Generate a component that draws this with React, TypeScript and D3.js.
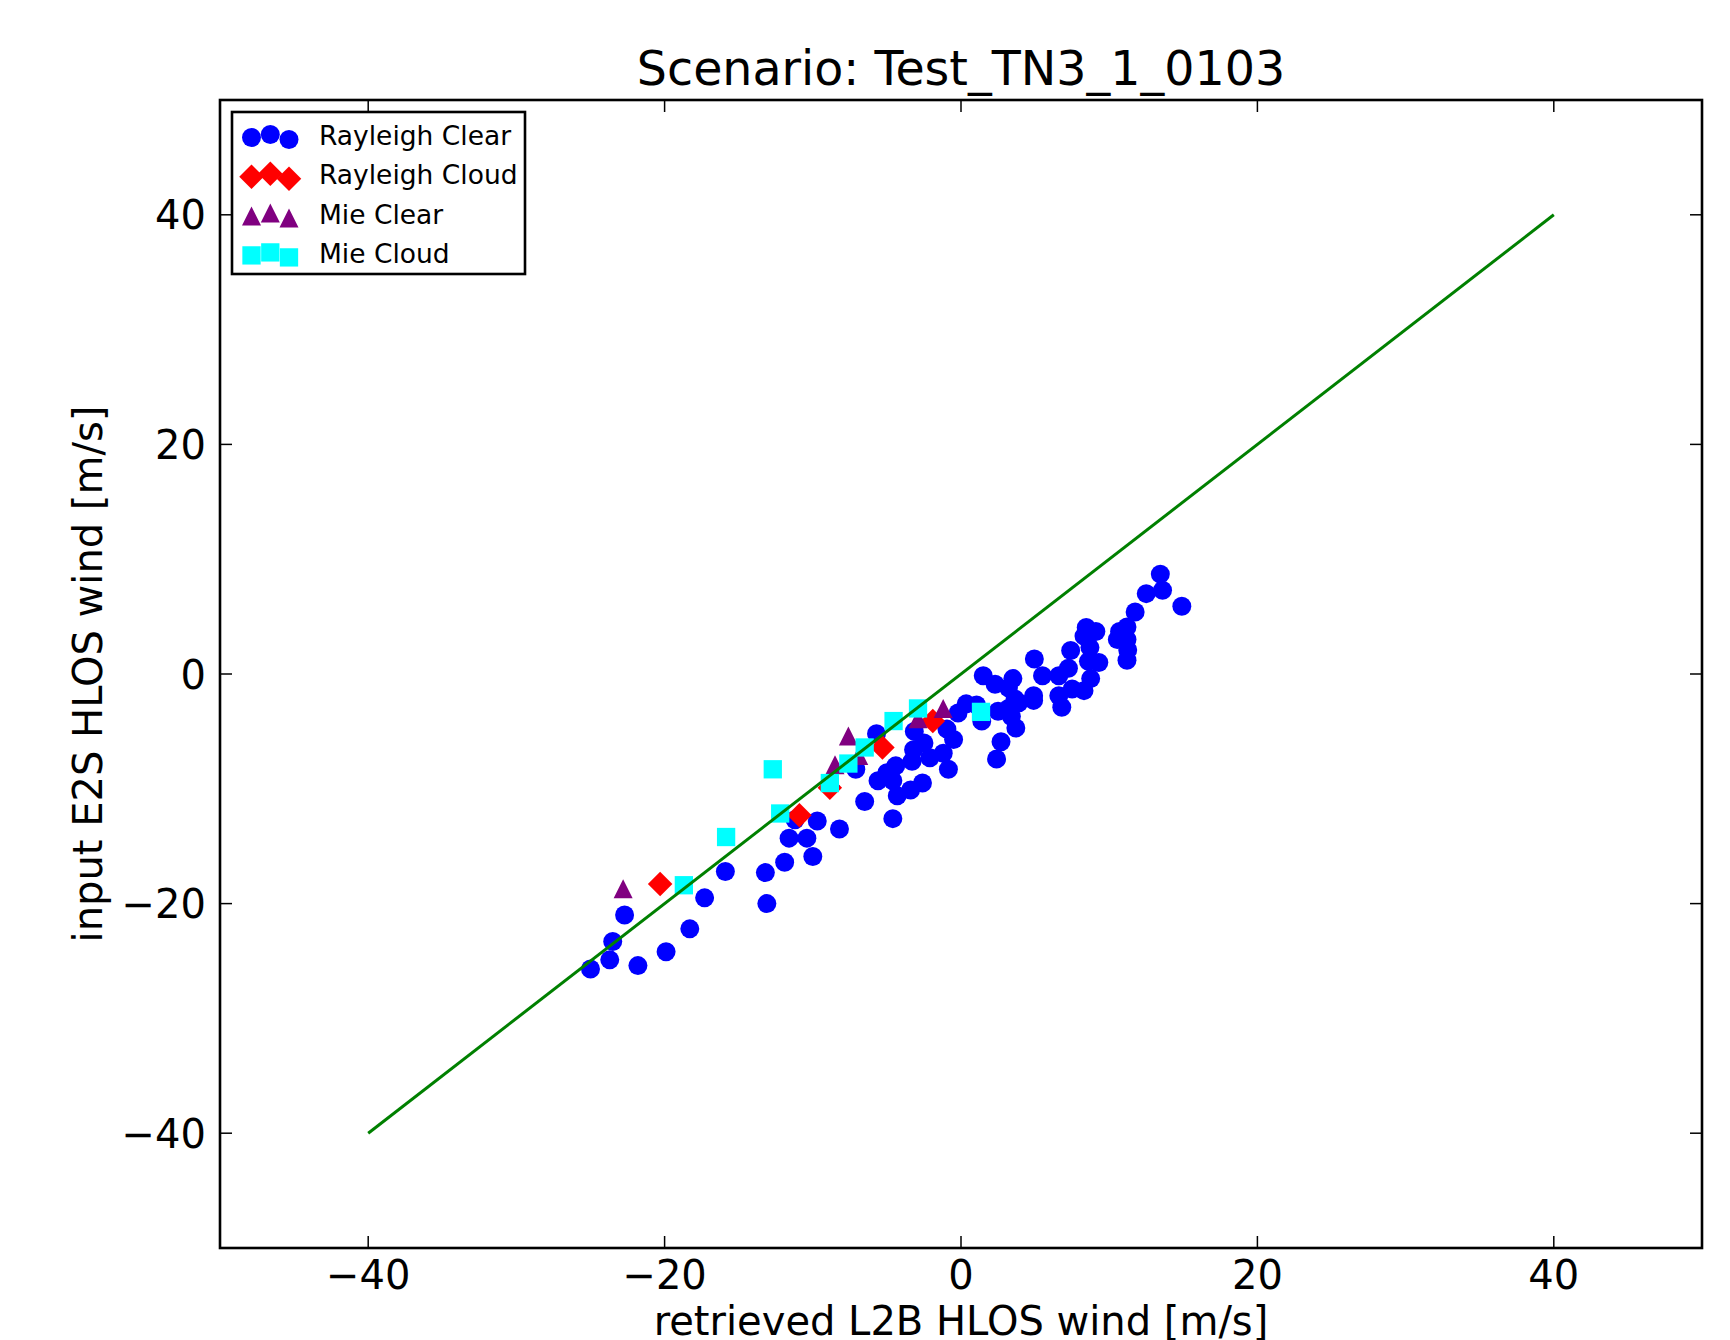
import React, { useEffect } from 'react'
import * as d3 from 'd3'

// values: [retrieved L2B, input E2S]
const rayleighClear: [number, number][] = [
  [-25.0, -25.7], [-23.7, -24.9], [-23.5, -23.3], [-22.7, -21.0], [-21.8, -25.4],
  [-19.9, -24.2], [-18.3, -22.2], [-17.3, -19.5], [-15.9, -17.2], [-13.2, -17.3],
  [-13.1, -20.0], [-11.9, -16.4], [-11.6, -14.3], [-10.4, -14.3], [-10.0, -15.9],
  [-9.7, -12.8], [-11.2, -12.7], [-8.2, -13.5], [-6.5, -11.1], [-4.6, -12.6],
  [-7.1, -8.3], [-5.7, -5.2], [-5.6, -9.3],
  [13.45, 8.7], [13.6, 7.3], [12.5, 7.0], [14.9, 5.9], [11.75, 5.4],
  [11.2, 4.1], [10.7, 3.7], [10.55, 3.0], [11.2, 3.0], [11.25, 2.1],
  [11.2, 1.2], [8.45, 4.05], [9.1, 3.7], [8.3, 3.3], [8.7, 2.3],
  [7.4, 2.05], [8.6, 1.1], [9.3, 1.0], [7.25, 0.5], [6.6, -0.15],
  [5.5, -0.15], [4.95, 1.3], [8.75, -0.4], [8.3, -1.45], [7.5, -1.3],
  [6.6, -1.9], [6.8, -2.9], [4.9, -1.9], [4.9, -2.3], [3.5, -0.4],
  [1.5, -0.15], [2.3, -0.9], [3.2, -1.2], [3.65, -2.2], [3.9, -2.5],
  [3.2, -3.0], [3.4, -3.7], [3.7, -4.7], [2.5, -3.25], [1.4, -4.1],
  [1.05, -2.7], [0.35, -2.6], [-0.2, -3.4], [2.7, -5.9], [2.4, -7.4],
  [-0.95, -4.8], [-0.5, -5.7], [-1.2, -6.9], [-0.85, -8.3], [-2.1, -7.3],
  [-3.2, -6.6], [-2.5, -6.0], [-3.15, -5.0], [-3.3, -7.6], [-4.4, -8.0],
  [-5.0, -8.6], [-4.6, -9.3], [-3.4, -10.1], [-2.6, -9.5], [-4.3, -10.6],
]
const rayleighCloud: [number, number][] = [
  [-20.3, -18.3], [-10.9, -12.3], [-8.85, -9.9], [-5.3, -6.4], [-1.9, -4.1],
]
const mieClear: [number, number][] = [
  [-22.8, -18.7], [-7.6, -5.4], [-8.5, -7.9], [-8.8, -9.0], [-6.9, -7.1],
  [-2.9, -3.9], [-1.2, -3.0],
]
const mieCloud: [number, number][] = [
  [-18.7, -18.4], [-15.85, -14.2], [-12.7, -8.3], [-12.2, -12.15], [-8.85, -9.5],
  [-7.6, -7.8], [-6.5, -6.4], [-4.55, -4.1], [-2.9, -3.0], [1.35, -3.3],
]

const ticks = [-40, -20, 0, 20, 40]
const refLine: [number, number][] = [[-40, -40], [40, 40]]
const seriesNames = ['Rayleigh Clear', 'Rayleigh Cloud', 'Mie Clear', 'Mie Cloud']

const W = 1730
const H = 1340
const left = 220, right = 1702, top = 100, bottom = 1248
const font = 'DejaVu Sans, sans-serif'

const x = d3.scaleLinear().domain([-50, 50]).range([left, right])
const y = d3.scaleLinear().domain([-50, 50]).range([bottom, top])

const circlePath = d3.symbol(d3.symbolCircle, Math.PI * 90)()
const squarePath = d3.symbol(d3.symbolSquare, 335)()
const diamondPath = d3.symbol(d3.symbolSquare, 300)()
const trianglePath = 'M0,-9.5L9.5,9.5L-9.5,9.5Z'

const styles = [
  { color: '#0000ff', path: circlePath, rot: 0 },
  { color: '#ff0000', path: diamondPath, rot: 45 },
  { color: '#800080', path: trianglePath, rot: 0 },
  { color: '#00ffff', path: squarePath, rot: 0 },
]
const series = [rayleighClear, rayleighCloud, mieClear, mieCloud]

function fmt(v: number) {
  return v < 0 ? '\u2212' + Math.abs(v) : String(v)
}

export default function App() {
  useEffect(() => {
    document.body.style.margin = '0'
  }, [])

  const line = d3.line<[number, number]>().x(d => x(d[0])).y(d => y(d[1]))

  return (
    <svg width={W} height={H} style={{ display: 'block', background: '#fff' }} fontFamily={font}>
      <rect x={0} y={0} width={W} height={H} fill="#fff" />

      {series.map((pts, i) => (
        <g key={i} fill={styles[i].color}>
          {pts.map((p, j) => (
            <path key={j} d={styles[i].path as string}
              transform={`translate(${x(p[0])},${y(p[1])}) rotate(${styles[i].rot})`} />
          ))}
        </g>
      ))}

      <path d={line(refLine) as string} stroke="#008000" strokeWidth={3} fill="none" />

      {/* ticks, inward on all four sides */}
      <g stroke="#000" strokeWidth={1.5}>
        {ticks.map(t => (
          <g key={'t' + t}>
            <line x1={x(t)} x2={x(t)} y1={bottom} y2={bottom - 12} />
            <line x1={x(t)} x2={x(t)} y1={top} y2={top + 12} />
            <line x1={left} x2={left + 12} y1={y(t)} y2={y(t)} />
            <line x1={right} x2={right - 12} y1={y(t)} y2={y(t)} />
          </g>
        ))}
      </g>
      <rect x={left} y={top} width={right - left} height={bottom - top}
        fill="none" stroke="#000" strokeWidth={2.6} />

      <g fontSize={40} fill="#000">
        {ticks.map(t => (
          <text key={'x' + t} x={x(t)} y={1289} textAnchor="middle">{fmt(t)}</text>
        ))}
        {ticks.map(t => (
          <text key={'y' + t} x={206} y={y(t) + 14.5} textAnchor="end">{fmt(t)}</text>
        ))}
        <text x={(left + right) / 2} y={1335} textAnchor="middle">retrieved L2B HLOS wind [m/s]</text>
        <text transform={`translate(102,${(top + bottom) / 2}) rotate(-90)`} textAnchor="middle">
          input E2S HLOS wind [m/s]
        </text>
      </g>
      <text x={(left + right) / 2} y={85} textAnchor="middle" fontSize={47.5} fill="#000">
        Scenario: Test_TN3_1_0103
      </text>

      {/* legend */}
      <rect x={232} y={112} width={293} height={162} fill="#fff" stroke="#000" strokeWidth={2.6} />
      {seriesNames.map((name, i) => {
        const base = 145 + i * 39.3
        const cy = base - 8.5
        const offs = [1, -2, 3]
        const xs = [251.5, 270.3, 289]
        return (
          <g key={name}>
            {xs.map((mx, k) => (
              <path key={k} d={styles[i].path as string} fill={styles[i].color}
                transform={`translate(${mx},${cy + offs[k]}) rotate(${styles[i].rot})`} />
            ))}
            <text x={319} y={base} fontSize={26.5} fill="#000">{name}</text>
          </g>
        )
      })}
    </svg>
  )
}
